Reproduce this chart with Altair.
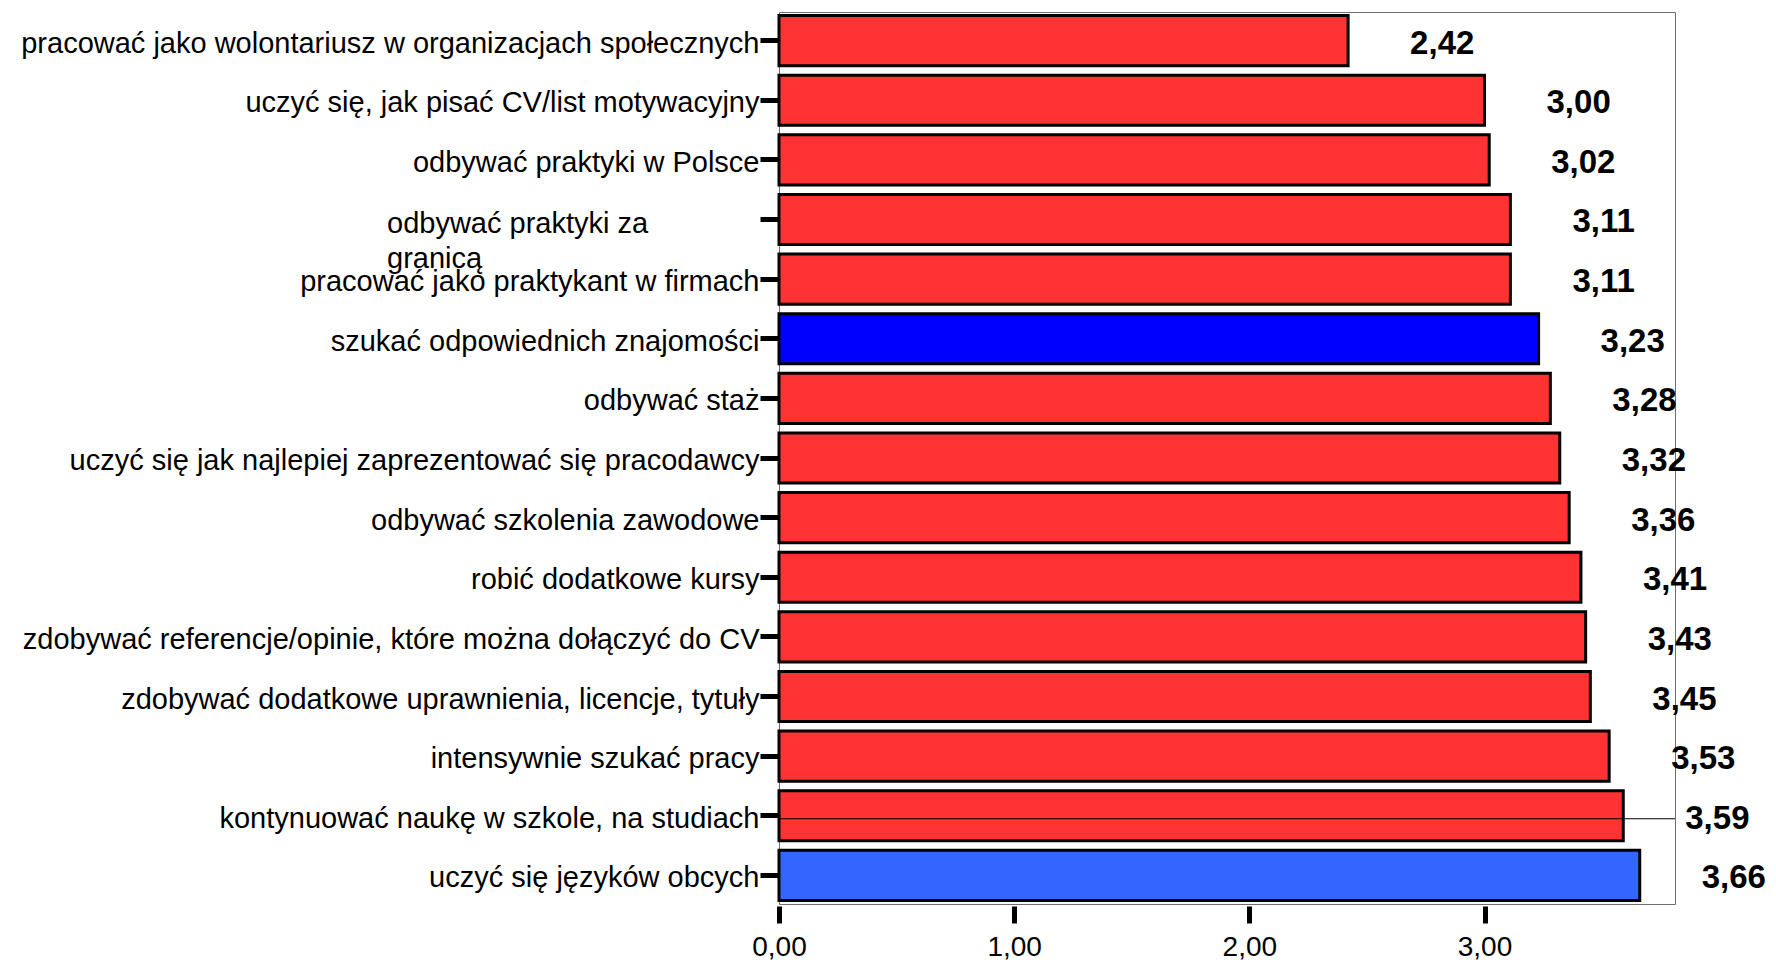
import altair as alt
import pandas as pd

categories = [
    "pracować jako wolontariusz w organizacjach społecznych",
    "uczyć się, jak pisać CV/list motywacyjny",
    "odbywać praktyki w Polsce",
    "odbywać praktyki za granicą",
    "pracować jako praktykant w firmach",
    "szukać odpowiednich znajomości",
    "odbywać staż",
    "uczyć się jak najlepiej zaprezentować się pracodawcy",
    "odbywać szkolenia zawodowe",
    "robić dodatkowe kursy",
    "zdobywać referencje/opinie, które można dołączyć do CV",
    "zdobywać dodatkowe uprawnienia, licencje, tytuły",
    "intensywnie szukać pracy",
    "kontynuować naukę w szkole, na studiach",
    "uczyć się języków obcych",
]
values = [2.42, 3.00, 3.02, 3.11, 3.11, 3.23, 3.28, 3.32, 3.36, 3.41, 3.43, 3.45, 3.53, 3.59, 3.66]
bar_colors = ["#FF3333"] * 5 + ["#0000FF"] + ["#FF3333"] * 8 + ["#3366FF"]
x_ticks = [0, 1, 2, 3]
wrapped_category = "odbywać praktyki za granicą"
wrapped_text = ["odbywać praktyki za", "granicą"]
ruled_category = "kontynuować naukę w szkole, na studiach"

df = pd.DataFrame({"cat": categories, "val": values, "col": bar_colors})

FONT = "Liberation Sans"
W, H = 896, 892

y_enc = alt.Y(
    "cat:N",
    sort=categories,
    title=None,
    scale=alt.Scale(paddingInner=0.16, paddingOuter=0.06),
    axis=alt.Axis(
        domain=False,
        ticks=True,
        tickSize=19,
        tickWidth=5,
        tickColor="black",
        labelFont=FONT,
        labelFontSize=29,
        labelColor="black",
        labelPadding=1,
        labelOffset=3,
        labelLimit=2000,
        labelExpr=f"datum.value == '{wrapped_category}' ? '' : datum.value",
    ),
)

x_scale = alt.Scale(domain=[0, 3.81], nice=False, zero=True)
x_enc = alt.X(
    "val:Q",
    scale=x_scale,
    title=None,
    axis=alt.Axis(
        values=x_ticks,
        labelExpr="replace(format(datum.value, '.2f'), '.', ',')",
        domain=False,
        grid=False,
        tickSize=17,
        tickWidth=5,
        tickColor="black",
        offset=2,
        labelFont=FONT,
        labelFontSize=28,
        labelColor="black",
        labelPadding=10,
        labelFlush=False,
        labelOverlap=False,
    ),
)

base = alt.Chart(df)

bars = base.mark_bar(stroke="black", strokeWidth=3).encode(
    x=x_enc,
    y=y_enc,
    color=alt.Color("col:N", scale=None),
)

labels = base.transform_calculate(
    lab="replace(format(datum.val, '.2f'), '.', ',')"
).mark_text(
    align="left", baseline="middle", dx=62, dy=3,
    font=FONT, fontSize=33, fontWeight="bold", color="black",
).encode(
    x=alt.X("val:Q", scale=x_scale),
    y=alt.Y("cat:N", sort=categories),
    text="lab:N",
)

wrapped = base.transform_filter(
    alt.datum.cat == wrapped_category
).mark_text(
    align="left", baseline="alphabetic", dy=14, lineHeight=35,
    font=FONT, fontSize=29, color="black",
).encode(
    x=alt.value(-392),
    y=alt.Y("cat:N", sort=categories),
    text=alt.value(wrapped_text),
)

rule = base.transform_filter(
    alt.datum.cat == ruled_category
).mark_rule(color="black", strokeWidth=1, yOffset=3).encode(
    y=alt.Y("cat:N", sort=categories),
    x=alt.value(0),
    x2=alt.value(W),
)

chart = alt.layer(bars, rule, labels, wrapped).properties(
    width=W,
    height=H,
    autosize=alt.AutoSizeParams(type="none"),
    padding={"left": 771, "top": 4, "right": 93, "bottom": 66},
).configure_view(
    stroke="#6e6e6e", strokeWidth=1
)

chart.save("out.html", embed_options={"renderer": "svg", "actions": False})
